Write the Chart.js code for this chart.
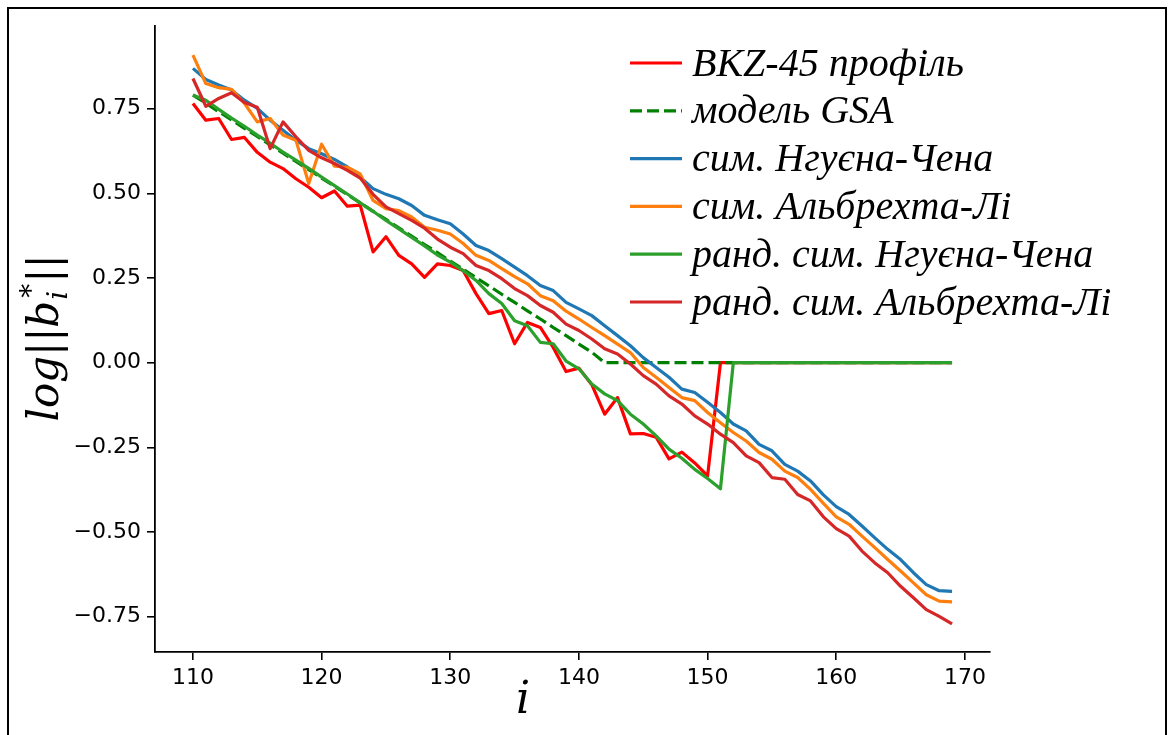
<!DOCTYPE html>
<html>
<head>
<meta charset="utf-8">
<title>BKZ-45 профіль</title>
<script src="https://cdn.jsdelivr.net/npm/chart.js@4.4.1/dist/chart.umd.min.js"></script>
<style>
  html, body { margin: 0; padding: 0; background: #fff; }
  #wrap { position: relative; width: 1172px; height: 735px; overflow: hidden; background: #fff; }
  #frame { position: absolute; left: 7px; top: 7px; width: 1156px; height: 780px; border: 2px solid #000; pointer-events: none; }
</style>
</head>
<body>
<div id="wrap">
  <canvas id="profileChart" width="1172" height="735"></canvas>
  <div id="frame"></div>
</div>
<script>
const indices = [
  110, 111, 112, 113, 114, 115, 116, 117, 118, 119,
  120, 121, 122, 123, 124, 125, 126, 127, 128, 129,
  130, 131, 132, 133, 134, 135, 136, 137, 138, 139,
  140, 141, 142, 143, 144, 145, 146, 147, 148, 149,
  150, 151, 152, 153, 154, 155, 156, 157, 158, 159,
  160, 161, 162, 163, 164, 165, 166, 167, 168, 169,
];

const bkzProfile = [
  0.765, 0.716, 0.721, 0.659, 0.665, 0.621, 0.592, 0.573, 0.543, 0.518,
  0.487, 0.507, 0.462, 0.465, 0.327, 0.372, 0.317, 0.292, 0.252, 0.292,
  0.287, 0.272, 0.204, 0.145, 0.154, 0.056, 0.119, 0.104, 0.045, -0.026,
  -0.016, -0.065, -0.152, -0.103, -0.21, -0.209, -0.22, -0.284, -0.264, -0.296,
  -0.334, 0, 0, 0, 0, 0, 0, 0, 0, 0,
  0, 0, 0, 0, 0, 0, 0, 0, 0, 0,
];

const gsaModel = [
  0.79, 0.766, 0.741, 0.717, 0.692, 0.668, 0.643, 0.619, 0.594, 0.57,
  0.545, 0.521, 0.496, 0.472, 0.447, 0.423, 0.398, 0.374, 0.349, 0.325,
  0.3, 0.276, 0.251, 0.227, 0.202, 0.178, 0.153, 0.129, 0.104, 0.08,
  0.055, 0.031, 0, 0, 0, 0, 0, 0, 0, 0,
  0, 0, 0, 0, 0, 0, 0, 0, 0, 0,
  0, 0, 0, 0, 0, 0, 0, 0, 0, 0,
];

const simNguyenChen = [
  0.869, 0.836, 0.82, 0.805, 0.775, 0.751, 0.716, 0.686, 0.657, 0.632,
  0.617, 0.6, 0.578, 0.548, 0.514, 0.497, 0.484, 0.464, 0.435, 0.422,
  0.41, 0.38, 0.346, 0.331, 0.307, 0.282, 0.257, 0.228, 0.213, 0.178,
  0.159, 0.139, 0.109, 0.08, 0.05, 0.015, -0.014, -0.043, -0.078, -0.088,
  -0.117, -0.147, -0.181, -0.201, -0.241, -0.26, -0.3, -0.32, -0.349, -0.39,
  -0.425, -0.448, -0.482, -0.517, -0.551, -0.581, -0.62, -0.655, -0.673, -0.675,
];

const simAlbrechtLi = [
  0.908, 0.824, 0.812, 0.807, 0.766, 0.711, 0.721, 0.672, 0.657, 0.529,
  0.645, 0.58, 0.577, 0.557, 0.479, 0.455, 0.449, 0.43, 0.4, 0.391,
  0.38, 0.352, 0.317, 0.302, 0.278, 0.254, 0.233, 0.198, 0.183, 0.152,
  0.129, 0.104, 0.08, 0.055, 0.03, -0.014, -0.043, -0.073, -0.103, -0.112,
  -0.147, -0.177, -0.206, -0.231, -0.265, -0.285, -0.32, -0.339, -0.374, -0.415,
  -0.455, -0.477, -0.512, -0.546, -0.581, -0.615, -0.65, -0.685, -0.704, -0.706,
];

const randNguyenChen = [
  0.79, 0.775, 0.748, 0.722, 0.698, 0.672, 0.648, 0.622, 0.598, 0.574,
  0.548, 0.523, 0.498, 0.472, 0.447, 0.42, 0.395, 0.37, 0.345, 0.318,
  0.297, 0.272, 0.243, 0.204, 0.175, 0.124, 0.109, 0.06, 0.056, 0.005,
  -0.018, -0.063, -0.092, -0.112, -0.152, -0.181, -0.216, -0.255, -0.282, -0.315,
  -0.342, -0.372, 0, 0, 0, 0, 0, 0, 0, 0,
  0, 0, 0, 0, 0, 0, 0, 0, 0, 0,
];

const randAlbrechtLi = [
  0.839, 0.757, 0.78, 0.797, 0.768, 0.754, 0.632, 0.711, 0.667, 0.627,
  0.605, 0.588, 0.568, 0.545, 0.497, 0.46, 0.44, 0.42, 0.397, 0.365,
  0.341, 0.322, 0.287, 0.272, 0.248, 0.219, 0.198, 0.169, 0.149, 0.114,
  0.095, 0.07, 0.041, 0.026, -0.004, -0.038, -0.063, -0.098, -0.122, -0.157,
  -0.181, -0.211, -0.236, -0.275, -0.295, -0.339, -0.344, -0.389, -0.408, -0.455,
  -0.49, -0.512, -0.556, -0.591, -0.62, -0.66, -0.694, -0.729, -0.749, -0.771,
];

const seriesNames = [
  "BKZ-45 профіль",
  "модель GSA",
  "сим. Нгуєна-Чена",
  "сим. Альбрехта-Лі",
  "ранд. сим. Нгуєна-Чена",
  "ранд. сим. Альбрехта-Лі",
];
const seriesColors = ["#ff0000", "#008000", "#1f77b4", "#ff7f0e", "#2ca02c", "#d62728"];

const xTicks = [110, 120, 130, 140, 150, 160, 170];
const yTicks = [-0.75, -0.5, -0.25, 0, 0.25, 0.5, 0.75];

function toPoints(values) {
  return values.map((v, k) => ({ x: indices[k], y: v }));
}

const allSeries = [bkzProfile, gsaModel, simNguyenChen, simAlbrechtLi, randNguyenChen, randAlbrechtLi];

const datasets = allSeries.map((values, k) => ({
  label: seriesNames[k],
  data: toPoints(values),
  borderColor: seriesColors[k],
  backgroundColor: seriesColors[k],
  borderDash: k === 1 ? [12, 5] : [],
  borderCapStyle: "butt",
  // matplotlib puts the last series on top
  order: allSeries.length - k,
}));

function minusSign(text) {
  return text.replace("-", "\u2212");
}

// legend inside the axes, top right, no frame
const insideLegend = {
  id: "insideLegend",
  afterDraw(chart) {
    const ctx = chart.ctx;
    const area = chart.chartArea;
    const lineStart = area.right - 360;
    const lineEnd = lineStart + 52;
    ctx.save();
    ctx.font = 'italic 40px "Liberation Serif"';
    ctx.textBaseline = "middle";
    ctx.fillStyle = "#000";
    chart.data.datasets.forEach((ds, k) => {
      const y = area.top + 37 + k * 47.8;
      ctx.strokeStyle = ds.borderColor;
      ctx.lineWidth = 3.2;
      ctx.setLineDash(ds.borderDash);
      ctx.beginPath();
      ctx.moveTo(lineStart, y);
      ctx.lineTo(lineEnd, y);
      ctx.stroke();
      ctx.setLineDash([]);
      ctx.fillText(ds.label, lineEnd + 10, y + 2);
    });
    ctx.restore();
  },
};

// axis titles: i below, log||b_i^*|| rotated at the left
const axisTitles = {
  id: "axisTitles",
  afterDraw(chart) {
    const ctx = chart.ctx;
    ctx.save();
    ctx.fillStyle = "#000";
    ctx.textBaseline = "alphabetic";

    ctx.font = 'italic 44px "DejaVu Serif"';
    ctx.textAlign = "center";
    ctx.fillText("i", 523, 713);

    ctx.textAlign = "left";
    ctx.translate(58, 338);
    ctx.rotate(-Math.PI / 2);
    const big = 'italic 42px "DejaVu Serif"';
    const bars = '42px "DejaVu Serif"';
    const small = 'italic 28px "DejaVu Serif"';
    const parts = [
      { t: "log", f: big, dy: 0 },
      { t: "||", f: bars, dy: 0 },
      { t: "b", f: big, dy: 0 },
    ];
    let w = 0;
    parts.forEach((p) => { ctx.font = p.f; p.w = ctx.measureText(p.t).width; w += p.w; });
    ctx.font = small;
    const scriptW = Math.max(ctx.measureText("i").width, ctx.measureText("*").width) + 4;
    ctx.font = bars;
    const endW = ctx.measureText("||").width;
    let x = -(w + scriptW + endW) / 2;
    parts.forEach((p) => { ctx.font = p.f; ctx.fillText(p.t, x, p.dy); x += p.w; });
    ctx.font = small;
    ctx.fillText("i", x + 1, 9);
    ctx.fillText("*", x + 3, -18);
    x += scriptW;
    ctx.font = bars;
    ctx.fillText("||", x, 0);
    ctx.restore();
  },
};

const tickFont = { family: "DejaVu Sans", size: 22 };

const chart = new Chart(document.getElementById("profileChart").getContext("2d"), {
  type: "line",
  data: { datasets: datasets },
  options: {
    responsive: false,
    animation: false,
    layout: { padding: { left: 0, right: 182, top: 26, bottom: 0 } },
    elements: {
      point: { radius: 0, hoverRadius: 0 },
      line: { borderWidth: 3.2, tension: 0, borderJoinStyle: "round" },
    },
    plugins: { legend: { display: false }, tooltip: { enabled: false } },
    scales: {
      x: {
        type: "linear",
        min: 107.05,
        max: 171.95,
        afterBuildTicks: (scale) => { scale.ticks = xTicks.map((v) => ({ value: v })); },
        afterFit: (scale) => { scale.height = 83; },
        grid: { display: true, drawOnChartArea: false, drawTicks: true, tickLength: 8, color: "#000", lineWidth: 1.6 },
        border: { display: true, color: "#000", width: 1.8 },
        ticks: { color: "#000", font: tickFont, padding: 5, maxRotation: 0, callback: (v) => String(v) },
      },
      y: {
        type: "linear",
        min: -0.854,
        max: 0.994,
        afterBuildTicks: (scale) => { scale.ticks = yTicks.map((v) => ({ value: v })); },
        afterFit: (scale) => { scale.width = 155; },
        grid: { display: true, drawOnChartArea: false, drawTicks: true, tickLength: 8, color: "#000", lineWidth: 1.6 },
        border: { display: true, color: "#000", width: 1.8 },
        ticks: { color: "#000", font: tickFont, padding: 6, callback: (v) => minusSign(v.toFixed(2)) },
      },
    },
  },
  plugins: [insideLegend, axisTitles],
});
</script>
</body>
</html>
